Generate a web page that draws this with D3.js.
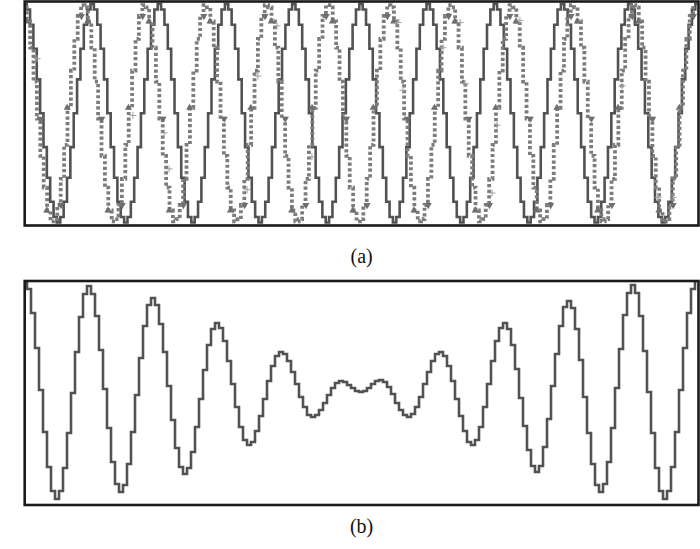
<!DOCTYPE html>
<html><head><meta charset="utf-8">
<script src="https://cdn.jsdelivr.net/npm/d3@7"></script>
<style>html,body{margin:0;padding:0;background:#fff;} svg{display:block;}</style>
</head><body><svg id="chart" width="700" height="549"></svg>
<script>
// Panel (a): solid signal, one value per sample
const solidA = [
 1,0.95,0.81,0.59,0.31,0,-0.31,-0.59,-0.81,-0.95,-1,-0.95,-0.81,-0.59,-0.31,0,0.31,0.59,0.81,0.95,
 1,0.95,0.81,0.59,0.31,0,-0.31,-0.59,-0.81,-0.95,-1,-0.95,-0.81,-0.59,-0.31,0,0.31,0.59,0.81,0.95,
 1,0.95,0.81,0.59,0.31,0,-0.31,-0.59,-0.81,-0.95,-1,-0.95,-0.81,-0.59,-0.31,0,0.31,0.59,0.81,0.95,
 1,0.95,0.81,0.59,0.31,0,-0.31,-0.59,-0.81,-0.95,-1,-0.95,-0.81,-0.59,-0.31,0,0.31,0.59,0.81,0.95,
 1,0.95,0.81,0.59,0.31,0,-0.31,-0.59,-0.81,-0.95,-1,-0.95,-0.81,-0.59,-0.31,0,0.31,0.59,0.81,0.95,
 1,0.95,0.81,0.59,0.31,0,-0.31,-0.59,-0.81,-0.95,-1,-0.95,-0.81,-0.59,-0.31,0,0.31,0.59,0.81,0.95,
 1,0.95,0.81,0.59,0.31,0,-0.31,-0.59,-0.81,-0.95,-1,-0.95,-0.81,-0.59,-0.31,0,0.31,0.59,0.81,0.95,
 1,0.95,0.81,0.59,0.31,0,-0.31,-0.59,-0.81,-0.95,-1,-0.95,-0.81,-0.59,-0.31,0,0.31,0.59,0.81,0.95,
 1,0.95,0.81,0.59,0.31,0,-0.31,-0.59,-0.81,-0.95,-1,-0.95,-0.81,-0.59,-0.31,0,0.31,0.59,0.81,0.95,
 1,0.95,0.81,0.59,0.31,0,-0.31,-0.59,-0.81,-0.95,-1,-0.95,-0.81,-0.59,-0.31,0,0.31,0.59,0.81,0.95,
 1
];
// Panel (a): dotted signal (slightly higher frequency), one value per sample
const dottedA = [
 0.97,0.84,0.60,0.29,-0.05,-0.39,-0.68,-0.89,-0.99,-0.97,-0.84,-0.60,-0.29,0.05,0.39,0.68,0.89,0.99,
 0.97,0.84,0.60,0.29,-0.05,-0.39,-0.68,-0.89,-0.99,-0.97,-0.84,-0.60,-0.29,0.05,0.39,0.68,0.89,0.99,
 0.97,0.84,0.60,0.29,-0.05,-0.39,-0.68,-0.89,-0.99,-0.97,-0.84,-0.60,-0.29,0.05,0.39,0.68,0.89,0.99,
 0.97,0.84,0.60,0.29,-0.05,-0.39,-0.68,-0.89,-0.99,-0.97,-0.84,-0.60,-0.29,0.05,0.39,0.68,0.89,0.99,
 0.97,0.84,0.60,0.29,-0.05,-0.39,-0.68,-0.89,-0.99,-0.97,-0.84,-0.60,-0.29,0.05,0.39,0.68,0.89,0.99,
 0.97,0.84,0.60,0.29,-0.05,-0.39,-0.68,-0.89,-0.99,-0.97,-0.84,-0.60,-0.29,0.05,0.39,0.68,0.89,0.99,
 0.97,0.84,0.60,0.29,-0.05,-0.39,-0.68,-0.89,-0.99,-0.97,-0.84,-0.60,-0.29,0.05,0.39,0.68,0.89,0.99,
 0.97,0.84,0.60,0.29,-0.05,-0.39,-0.68,-0.89,-0.99,-0.97,-0.84,-0.60,-0.29,0.05,0.39,0.68,0.89,0.99,
 0.97,0.84,0.60,0.29,-0.05,-0.39,-0.68,-0.89,-0.99,-0.97,-0.84,-0.60,-0.29,0.05,0.39,0.68,0.89,0.99,
 0.97,0.84,0.60,0.29,-0.05,-0.39,-0.68,-0.89,-0.99,-0.97,-0.84,-0.60,-0.29,0.05,0.39,0.68,0.89,0.99,
 0.97,0.84,0.60,0.29,-0.05,-0.39,-0.68,-0.89,-0.99,-0.97,-0.84,-0.60,-0.29,0.05,0.39,0.68,0.89,0.99
];
// sampling intervals (in panel-(a) time units)
const dtSolid = 1;
const dtDotted = 1.012;
// scattered "+" samples in panel (a)
const plusT = [3.6, 32.1, 41.4, 42.9, 66.1, 69.3, 75.0, 85.4, 111.0, 112.5, 124.4, 129.5, 131.0, 139.0, 140.5, 147.3, 177.7, 188.4, 192.9];
const plusV = [0.50, -0.02, -0.18, -0.51, -0.70, 0.34, 0.80, -0.40, 0.83, 0.21, 0.60, 0.83, 0.27, -0.73, -0.11, 0.85, 0.25, -0.77, -0.77];
// Panel (b): combined signal
const waveB = [
 111,103,79,44,2,-40,-75,-99,-107,-99,-76,-41,-1,40,75,98,
 106,98,76,42,3,-36,-70,-92,-100,-93,-72,-40,-3,34,66,87,
 94,87,68,40,6,-28,-56,-75,-82,-76,-60,-35,-7,22,47,63,
 69,64,51,31,8,-15,-35,-48,-53,-50,-39,-24,-7,11,26,36,
 40,38,31,20,8,-5,-15,-23,-25,-23,-18,-11,-3,4,9,11,
 10,7,4,1,0,1,4,8,11,12,10,5,-2,-11,-18,-23,
 -25,-22,-15,-5,8,20,31,38,40,36,26,11,-7,-24,-39,-50,
 -53,-48,-35,-15,8,31,51,64,69,63,47,23,-6,-34,-58,-74,
 -80,-74,-55,-27,6,38,66,85,91,84,63,32,-5,-41,-72,-93,
 -100,-92,-70,-36,4,43,77,99,107,99,76,41,0,-41,-76,-99,
 -107,-99,-75,-40,2,44,79,103,111
];
const panelLabels = ["(a)", "(b)"];

const svg = d3.select("#chart");
const L = 24.7, R = 698.5;
const panels = [
  {top: 1.5, bottom: 225.5, label: panelLabels[0], labelY: 263},
  {top: 281, bottom: 505, label: panelLabels[1], labelY: 533}
];

panels.forEach((p, i) => {
  svg.append("clipPath").attr("id", "clip" + i)
    .append("rect").attr("x", L).attr("y", p.top).attr("width", R - L).attr("height", p.bottom - p.top);
});

// ---- Panel (a)
const xA = d3.scaleLinear().domain([0, 200]).range([25, 697]);
const yA = d3.scaleLinear().domain([-1, 1]).range([222.5, 4]);
const gA = svg.append("g").attr("clip-path", "url(#clip0)");

const lineSolid = d3.line().x((d, i) => xA(i * dtSolid)).y(d => yA(d)).curve(d3.curveStep);
const lineDot = d3.line().x((d, i) => xA(i * dtDotted)).y(d => yA(d)).curve(d3.curveStep);

gA.append("path").datum(solidA).attr("d", lineSolid)
  .attr("fill", "none").attr("stroke", "#525252").attr("stroke-width", 2.6);

gA.append("path").datum(dottedA).attr("d", lineDot)
  .attr("fill", "none").attr("stroke", "#7c7c7c").attr("stroke-width", 3.8)
  .attr("stroke-dasharray", "3.2,2.4");

// triangle markers on dotted series
const triSym = d3.symbol().type(d3.symbolTriangle).size(22);
const triData = dottedA.map((v, i) => ({v, i})).filter(d => d.i % 3 === 1);
gA.selectAll("path.tri").data(triData).join("path").attr("class", "tri")
  .attr("d", triSym)
  .attr("transform", (d, k) => `translate(${xA(d.i * dtDotted) + (k % 2 ? 2 : -2)},${yA(d.v)}) rotate(${k % 2 ? 180 : 0})`)
  .attr("fill", "#6f6f6f");

// plus markers
gA.selectAll("path.plus").data(plusT.map((t, i) => ({t, v: plusV[i]}))).join("path").attr("class", "plus")
  .attr("d", d => { const x = xA(d.t), y = yA(d.v); return `M${x - 3.5},${y}H${x + 3.5}M${x},${y - 3.5}V${y + 3.5}`; })
  .attr("stroke", "#a0a0a0").attr("stroke-width", 1).attr("fill", "none");

// ---- Panel (b)
const xB = d3.scaleLinear().domain([0, waveB.length - 1]).range([25, 697]);
const yB = d3.scaleLinear().domain([-111, 111]).range([503, 281]);
const gB = svg.append("g").attr("clip-path", "url(#clip1)");
gB.append("path").datum(waveB)
  .attr("d", d3.line().x((d, i) => xB(i)).y(d => yB(d)).curve(d3.curveStep))
  .attr("fill", "none").attr("stroke", "#525252").attr("stroke-width", 2.6);

// frames and labels
panels.forEach(p => {
  svg.append("rect").attr("x", L).attr("y", p.top).attr("width", R - L).attr("height", p.bottom - p.top)
    .attr("fill", "none").attr("stroke", "#1a1a1a").attr("stroke-width", 2.6);
  svg.append("text").attr("x", (L + R) / 2).attr("y", p.labelY)
    .attr("text-anchor", "middle").attr("font-family", "'Liberation Serif', 'Times New Roman', serif")
    .attr("font-size", 20).attr("fill", "#111").text(p.label);
});
</script>
</body></html>
